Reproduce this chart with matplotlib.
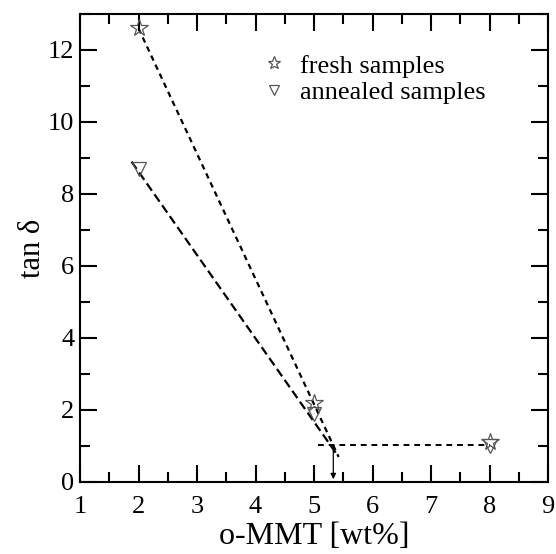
import numpy as np
import matplotlib
matplotlib.use('Agg')
import matplotlib.pyplot as plt
from matplotlib.ticker import MultipleLocator

# data
mmt = [2, 5, 8]
fresh = [12.6, 2.2, 1.1]
annealed = [8.7, 1.9, 1.0]
fit_fresh_x = [2.0, 5.42]
fit_fresh_y = [12.6, 0.7]
fit_ann_x = [1.88, 5.42]
fit_ann_y = [8.9, 0.7]
plateau_x = [5.07, 8.0]
plateau_y = [1.03, 1.03]
cross_x = 5.33

plt.rcParams['font.family'] = ['Liberation Serif', 'DejaVu Serif']
fig = plt.figure(figsize=(5.56, 5.54), dpi=100)
ax = fig.add_axes([80/556, 1-482/554, 468/556, 468/554])

ax.plot(fit_fresh_x, fit_fresh_y, ls=(0, (2.5, 2)), color='black', lw=1.6)
ax.plot(fit_ann_x, fit_ann_y, ls=(0, (4, 2)), color='black', lw=1.6)
ax.plot(plateau_x, plateau_y, ls=(0, (3, 2.5)), color='black', lw=1.4)
ax.annotate('', xy=(cross_x, 0), xytext=(cross_x, plateau_y[0]),
            arrowprops=dict(arrowstyle='-|>', color='black', lw=0.9, mutation_scale=8))

ax.plot(mmt, fresh, ls='none', marker='*', ms=13, mfc='none', mec='#555555', mew=0.9,
        label='fresh samples')
ax.plot(mmt, annealed, ls='none', marker='v', ms=10, mfc='none', mec='#555555', mew=0.9,
        label='annealed samples')

ax.set_xlim(1, 9); ax.set_ylim(0, 13)
ax.xaxis.set_major_locator(MultipleLocator(1))
ax.xaxis.set_minor_locator(MultipleLocator(0.5))
ax.yaxis.set_major_locator(MultipleLocator(2))
ax.yaxis.set_minor_locator(MultipleLocator(1))
ax.tick_params(which='both', direction='in', top=True, right=True, labelsize=19, width=1.5)
ax.tick_params(axis='x', which='both', pad=10)
ax.tick_params(axis='y', which='both', pad=4)
ax.tick_params(which='major', length=12)
ax.tick_params(which='minor', length=7)
for s in ax.spines.values():
    s.set_linewidth(1.5)

ax.set_xlabel('o-MMT [wt%]', fontsize=23, labelpad=3)
ax.set_ylabel('tan δ', fontsize=22, labelpad=1)

ax.legend(loc='upper left', bbox_to_anchor=(0.33, 0.965), frameon=False, fontsize=19,
          handletextpad=0.4, labelspacing=0.12, markerscale=0.75, handlelength=1.2)

fig.savefig('out.png', dpi=100)
